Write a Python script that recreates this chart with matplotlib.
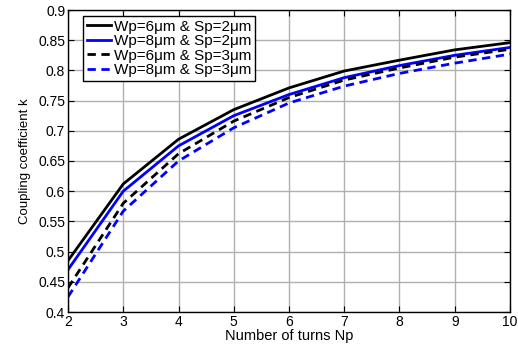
import matplotlib
matplotlib.use("Agg")
import matplotlib.pyplot as plt

plt.rcParams['font.family'] = ['Liberation Sans', 'DejaVu Sans']

turns = [2, 3, 4, 5, 6, 7, 8, 9, 10]
k_w6_s2 = [0.485, 0.612, 0.686, 0.735, 0.771, 0.799, 0.817, 0.834, 0.846]
k_w8_s2 = [0.470, 0.600, 0.675, 0.725, 0.760, 0.788, 0.808, 0.825, 0.838]
k_w6_s3 = [0.440, 0.580, 0.662, 0.716, 0.755, 0.784, 0.804, 0.822, 0.835]
k_w8_s3 = [0.425, 0.567, 0.650, 0.705, 0.746, 0.774, 0.795, 0.812, 0.827]
labels = ["Wp=6μm & Sp=2μm", "Wp=8μm & Sp=2μm", "Wp=6μm & Sp=3μm", "Wp=8μm & Sp=3μm"]
yticks = [0.4, 0.45, 0.5, 0.55, 0.6, 0.65, 0.7, 0.75, 0.8, 0.85, 0.9]

fig = plt.figure(figsize=(5.18, 3.49), dpi=100)
ax = fig.add_axes([68/518, 1-312/349, (510-68)/518, (312-10)/349])

ax.plot(turns, k_w6_s2, color='black', lw=2, ls='-', label=labels[0])
ax.plot(turns, k_w8_s2, color='#0000ff', lw=2, ls='-', label=labels[1])
ax.plot(turns, k_w6_s3, color='black', lw=2, ls=(0, (3, 2)), label=labels[2])
ax.plot(turns, k_w8_s3, color='#0000ff', lw=2, ls=(0, (3, 2)), label=labels[3])

ax.set_xlim(2, 10)
ax.set_ylim(0.4, 0.9)
ax.set_xticks(turns)
ax.set_yticks(yticks)
ax.set_yticklabels([f"{v:g}" for v in yticks])
ax.grid(True, color='#b0b0b0', lw=1, ls='-')
ax.set_axisbelow(True)
ax.tick_params(direction='in', top=True, right=True, labelsize=10, length=4, pad=2)
for s in ax.spines.values():
    s.set_linewidth(1)
ax.set_xlabel("Number of turns Np", fontsize=10.5, labelpad=0)
ax.set_ylabel("Coupling coefficient k", fontsize=9.5, labelpad=5)

leg = ax.legend(loc='upper left', bbox_to_anchor=((83-68)/442, (312-16)/302), fontsize=11,
                fancybox=False, edgecolor='black', framealpha=1, borderaxespad=0,
                handlelength=1.6, handletextpad=0.15, labelspacing=0.03, borderpad=0.25)
leg.get_frame().set_linewidth(1)

fig.savefig("out.png", dpi=100)
